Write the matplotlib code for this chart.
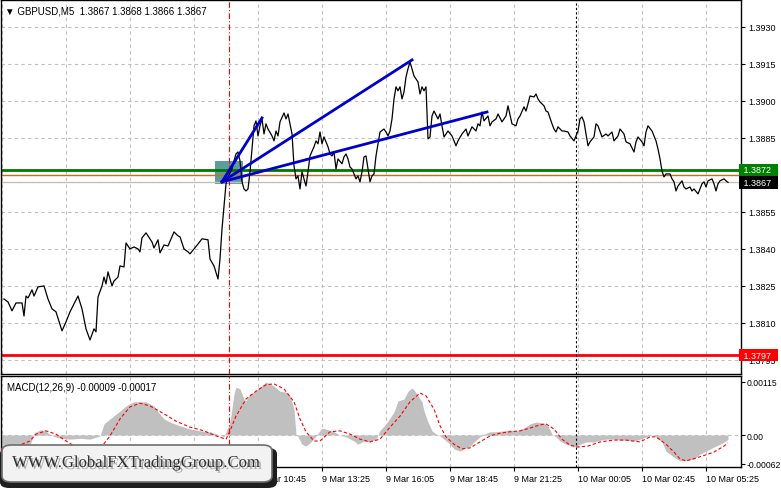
import matplotlib.pyplot as plt
import matplotlib.transforms as mtransforms
import matplotlib.patheffects as pe
from matplotlib.patches import FancyBboxPatch, Rectangle

# GBPUSD M5 closes (bar index from 9 Mar 00:00, 5 min per bar)
price_bar = [2, 4, 6, 8, 11, 12, 13, 14, 16, 17, 19, 22, 24, 26, 28, 31, 33, 35, 37, 39,
             41, 43, 45, 47, 48, 49, 51, 52, 53, 54, 56, 57, 59, 60, 62, 63, 65, 67, 69, 70,
             71, 73, 74, 76, 77, 79, 80, 82, 84, 87, 89, 90, 92, 94, 95, 97, 99, 101, 104, 105,
             107, 109, 110, 111, 112, 113, 114, 116, 117, 118, 119, 120, 121, 122, 123, 124, 125, 126, 127, 128,
             129, 130, 131, 132, 133, 134, 136, 137, 138, 139, 140, 142, 143, 144, 146, 147, 148, 149, 150, 151,
             152, 153, 154, 155, 157, 158, 159, 160, 161, 162, 164, 165, 166, 167, 168, 169, 171, 172, 173, 174,
             175, 176, 178, 179, 180, 181, 182, 183, 184, 185, 186, 187, 188, 189, 190, 192, 193, 194, 195, 196,
             197, 198, 199, 200, 201, 202, 203, 204, 205, 206, 207, 209, 210, 211, 212, 213, 214, 215, 216, 217,
             219, 220, 221, 222, 224, 226, 228, 229, 231, 233, 234, 236, 238, 239, 240, 241, 242, 244, 245, 246,
             248, 249, 251, 253, 254, 256, 258, 259, 260, 262, 263, 264, 265, 267, 268, 269, 270, 272, 273, 274,
             276, 277, 278, 279, 281, 282, 284, 285, 287, 288, 289, 290, 291, 292, 293, 294, 295, 297, 298, 299,
             301, 303, 304, 306, 307, 309, 310, 312, 313, 315, 317, 318, 319, 321, 322, 323, 324, 326, 328, 329,
             330, 331, 332, 333, 335, 336, 337, 338, 339, 341, 342, 343, 345, 346, 347, 349, 350, 351, 352, 353,
             354, 356, 357, 358, 359, 360, 362, 363, 364]
price_close = [1.38197, 1.38185, 1.38149, 1.38181, 1.38181, 1.38128, 1.38209, 1.38201, 1.38234, 1.38209,
               1.38246, 1.38250, 1.38197, 1.38157, 1.38145, 1.38068, 1.38104, 1.38145, 1.38177, 1.38209,
               1.38157, 1.38076, 1.38031, 1.38076, 1.38064, 1.38205, 1.38250, 1.38286, 1.38258, 1.38307,
               1.38250, 1.38270, 1.38286, 1.38331, 1.38327, 1.38424, 1.38400, 1.38408, 1.38400, 1.38388,
               1.38445, 1.38465, 1.38453, 1.38428, 1.38404, 1.38437, 1.38384, 1.38416, 1.38412, 1.38469,
               1.38453, 1.38449, 1.38400, 1.38388, 1.38380, 1.38400, 1.38420, 1.38441, 1.38437, 1.38359,
               1.38331, 1.38278, 1.38359, 1.38481, 1.38574, 1.38664, 1.38692, 1.38724, 1.38757, 1.38785,
               1.38793, 1.38757, 1.38672, 1.38643, 1.38635, 1.38643, 1.38712, 1.38805, 1.38899, 1.38919,
               1.38858, 1.38899, 1.38927, 1.38866, 1.38907, 1.38886, 1.38858, 1.38838, 1.38878, 1.38858,
               1.38915, 1.38951, 1.38927, 1.38947, 1.38866, 1.38737, 1.38684, 1.38696, 1.38643, 1.38712,
               1.38684, 1.38655, 1.38712, 1.38777, 1.38814, 1.38838, 1.38826, 1.38874, 1.38826, 1.38854,
               1.38814, 1.38785, 1.38777, 1.38793, 1.38724, 1.38765, 1.38745, 1.38773, 1.38785, 1.38765,
               1.38732, 1.38724, 1.38684, 1.38696, 1.38672, 1.38712, 1.38773, 1.38777, 1.38724, 1.38672,
               1.38696, 1.38704, 1.38777, 1.38826, 1.38874, 1.38886, 1.38874, 1.38858, 1.38878, 1.38927,
               1.39008, 1.39057, 1.39041, 1.39057, 1.39008, 1.39036, 1.39097, 1.39130, 1.39158, 1.39130,
               1.39101, 1.39077, 1.39028, 1.39057, 1.39041, 1.39057, 1.38846, 1.38854, 1.38939, 1.38959,
               1.38927, 1.38947, 1.38899, 1.38854, 1.38878, 1.38858, 1.38818, 1.38838, 1.38866, 1.38886,
               1.38858, 1.38895, 1.38878, 1.38907, 1.38899, 1.38955, 1.38919, 1.38939, 1.38899, 1.38915,
               1.38927, 1.38947, 1.38915, 1.38939, 1.38980, 1.38907, 1.38899, 1.38927, 1.38939, 1.38976,
               1.38959, 1.38988, 1.39020, 1.39016, 1.39028, 1.39008, 1.38996, 1.38980, 1.38959, 1.38955,
               1.38907, 1.38886, 1.38874, 1.38895, 1.38878, 1.38878, 1.38874, 1.38858, 1.38838, 1.38858,
               1.38878, 1.38927, 1.38935, 1.38915, 1.38866, 1.38818, 1.38834, 1.38854, 1.38907, 1.38899,
               1.38854, 1.38866, 1.38858, 1.38874, 1.38838, 1.38858, 1.38886, 1.38866, 1.38834, 1.38826,
               1.38793, 1.38834, 1.38854, 1.38834, 1.38818, 1.38874, 1.38899, 1.38878, 1.38838, 1.38805,
               1.38765, 1.38716, 1.38692, 1.38704, 1.38704, 1.38684, 1.38672, 1.38635, 1.38655, 1.38676,
               1.38651, 1.38643, 1.38651, 1.38635, 1.38643, 1.38623, 1.38643, 1.38664, 1.38672, 1.38651,
               1.38676, 1.38684, 1.38664, 1.38635, 1.38664, 1.38676, 1.38684, 1.38676, 1.38670]

# MACD(12,26,9) histogram
macd_bar = [0, 15, 17, 20, 23, 25, 30, 35, 40, 45, 50, 52, 55, 60, 63, 67, 70, 73, 77, 79,
            82, 85, 90, 95, 100, 105, 110, 112, 115, 117, 118, 120, 122, 123, 125, 127, 130, 133, 137, 140,
            143, 145, 147, 148, 149, 151, 153, 156, 158, 161, 163, 167, 170, 173, 177, 179, 182, 185, 188, 190,
            193, 197, 199, 202, 204, 206, 207, 209, 211, 212, 214, 216, 218, 220, 222, 225, 227, 230, 232, 235,
            237, 240, 242, 245, 248, 252, 255, 258, 262, 265, 268, 272, 274, 276, 278, 280, 283, 287, 290, 293,
            297, 300, 303, 307, 310, 313, 317, 320, 323, 326, 328, 331, 333, 337, 340, 343, 347, 350, 353, 357,
            360, 363, 364]
macd_val = [-0.00022, -0.00022, 0.00004, 0.00011, 0.00009, 0.0, -0.00007, -0.00009, -0.00007, -0.00009,
            -0.00002, 0.00024, 0.00035, 0.00052, 0.00063, 0.00072, 0.00072, 0.00072, 0.00063, 0.00050,
            0.00035, 0.00028, 0.00020, 0.00013, 0.00009, 0.00007, 0.0, -0.00004, 0.00028, 0.00089,
            0.00104, 0.00100, 0.00078, 0.00074, 0.00089, 0.00093, 0.00104, 0.00115, 0.00106, 0.00095,
            0.00093, 0.00085, 0.00056, 0.00002, -0.00004, -0.00020, -0.00024, -0.00013, -0.00002, 0.00015,
            0.00013, 0.00007, 0.0, -0.00004, -0.00013, -0.00020, -0.00013, -0.00015, -0.00009, 0.00010,
            0.00024, 0.00050, 0.00074, 0.00078, 0.00095, 0.00102, 0.00098, 0.00085, 0.00072, 0.00052,
            0.00028, 0.00009, 0.00002, -0.00002, -0.00009, -0.00020, -0.00030, -0.00035, -0.00030, -0.00024,
            -0.00015, -0.00004, 0.00002, 0.00007, 0.00007, 0.00009, 0.00011, 0.00009, 0.00015, 0.00024,
            0.00028, 0.00026, 0.00020, 0.00002, -0.00004, -0.00013, -0.00020, -0.00026, -0.00020, -0.00015,
            -0.00015, -0.00011, -0.00009, -0.00009, -0.00011, -0.00011, -0.00013, -0.00009, -0.00004, 0.0,
            -0.00004, -0.00015, -0.00035, -0.00048, -0.00056, -0.00056, -0.00052, -0.00041, -0.00035, -0.00026,
            -0.00020, -0.00013, -0.00009]

# MACD signal line
sig_bar = [0, 8, 15, 18, 23, 28, 33, 38, 45, 50, 55, 60, 65, 70, 75, 82, 88, 95, 102, 108,
           113, 115, 118, 123, 128, 133, 137, 142, 147, 150, 153, 157, 160, 165, 170, 175, 180, 185, 190, 195,
           200, 205, 210, 213, 217, 220, 223, 227, 231, 235, 240, 245, 250, 255, 260, 265, 270, 273, 277, 281,
           285, 289, 294, 300, 307, 313, 320, 325, 328, 333, 337, 340, 343, 348, 353, 357, 362, 364]
sig_val = [-0.00030, -0.00025, -0.00013, 0.00002, 0.00009, 0.00002, -0.00013, -0.00026, -0.00037, -0.00030,
           -0.00002, 0.00035, 0.00061, 0.00069, 0.00063, 0.00046, 0.00030, 0.00017, 0.00009, -0.00002,
           -0.00009, 0.00009, 0.00041, 0.00078, 0.00095, 0.00109, 0.00111, 0.00100, 0.00072, 0.00035,
           0.00007, -0.00013, -0.00013, 0.00007, 0.00009, 0.00002, -0.00009, -0.00015, -0.00009, 0.00017,
           0.00041, 0.00072, 0.00091, 0.00085, 0.00056, 0.00020, -0.00004, -0.00020, -0.00030, -0.00028,
           -0.00015, -0.00002, 0.00004, 0.00007, 0.00009, 0.00015, 0.00022, 0.00024, 0.00013, -0.00009,
           -0.00022, -0.00026, -0.00024, -0.00015, -0.00011, -0.00011, -0.00015, -0.00004, -0.00004, -0.00020,
           -0.00037, -0.00052, -0.00056, -0.00050, -0.00043, -0.00037, -0.00024, -0.00017]

price_ticks = [1.3795, 1.3810, 1.3825, 1.3840, 1.3855, 1.3870, 1.3885, 1.3900, 1.3915, 1.3930]
price_tick_labels = ['1.3795', '1.3810', '1.3825', '1.3840', '1.3855', '', '1.3885', '1.3900', '1.3915', '1.3930']
macd_ticks = [-0.00062, 0.0, 0.00115]
macd_tick_labels = ['-0.00062', '0.00', '0.00115']
time_bars = [1, 33, 65, 97, 129, 161, 193, 225, 257, 289, 321, 353]
time_labels = ['9 Mar 2021', '9 Mar 02:45', '9 Mar 05:25', '9 Mar 08:05', '9 Mar 10:45', '9 Mar 13:25',
               '9 Mar 16:05', '9 Mar 18:45', '9 Mar 21:25', '10 Mar 00:05', '10 Mar 02:45', '10 Mar 05:25']

# levels and drawn objects
green_level = 1.3872
orange_level = 1.3870
bid_level = 1.3867
red_level = 1.3797
event_bar = 114.5
day_bar = 288
fan_start = (111, 1.38672)
fan_ends = [(131, 1.38931), (206, 1.39166), (243.5, 1.38955)]
box_bars = (107.5, 121.5)
box_prices = (1.38664, 1.38757)

plt.rcParams['font.family'] = ['Liberation Sans', 'DejaVu Sans']
fs = 6.5
grid_kw = dict(color='#c0c0c0', linestyle=(0, (3, 3)), linewidth=0.8)

fig = plt.figure(figsize=(7.81, 4.89), dpi=100)
ax = fig.add_axes([1 / 781, 1 - 375 / 489, 740 / 781, 374 / 489])
am = fig.add_axes([1 / 781, 1 - 468 / 489, 740 / 781, 91 / 489])

for a in (ax, am):
    a.set_xlim(0.5, 370.5)
    a.set_xticks(time_bars)
    a.grid(axis='x', **grid_kw)
    a.yaxis.tick_right()
    a.tick_params(axis='y', direction='out', length=3, labelsize=fs, pad=2, width=0.8)
    for s in a.spines.values():
        s.set_linewidth(1)
    a.axvline(event_bar, color='red', linestyle=(0, (5, 2, 1, 2)), linewidth=0.8, zorder=3)
    a.axvline(day_bar, color='black', linestyle=(0, (2, 2)), linewidth=0.8, zorder=3)

# main price panel
ax.set_ylim(1.37893, 1.39409)
ax.set_yticks(price_ticks)
ax.set_yticklabels(price_tick_labels)
ax.grid(axis='y', **grid_kw)
ax.tick_params(axis='x', length=0, labelbottom=False)

ax.add_patch(Rectangle((box_bars[0], box_prices[0]), box_bars[1] - box_bars[0],
                       box_prices[1] - box_prices[0], facecolor='#5f9b9b', edgecolor='none', zorder=2))
ax.axhline(bid_level, color='#c0c0c0', linewidth=1, zorder=2)
ax.axhline(orange_level, color='#d2691e', linewidth=1, zorder=2)
ax.axhline(green_level, color='#007800', linewidth=2, zorder=2)
ax.axhline(red_level, color='#ff0000', linewidth=2, zorder=2)
ax.plot(price_bar, price_close, color='black', linewidth=0.9, zorder=4)
for ex, ey in fan_ends:
    ax.plot([fan_start[0], ex], [fan_start[1], ey], color='#0000cd', linewidth=2, zorder=5)

trans = mtransforms.blended_transform_factory(ax.transAxes, ax.transData)
for lvl, txt, col in [(green_level, '1.3872', '#008000'), (bid_level, '1.3867', '#000000'),
                      (red_level, '1.3797', '#ff0000')]:
    ax.text(1.0, lvl, ' ' + txt + '  ', transform=trans, ha='left', va='center', fontsize=fs,
            color='white', clip_on=False, zorder=6,
            bbox=dict(boxstyle='square,pad=0.2', facecolor=col, edgecolor='none'))

ax.text(0.006, 0.985, '\u25BC GBPUSD,M5  1.3867 1.3868 1.3866 1.3867', transform=ax.transAxes,
        ha='left', va='top', fontsize=7)

# MACD panel
am.set_ylim(-0.000694, 0.00128)
am.set_yticks(macd_ticks)
am.set_yticklabels(macd_tick_labels)
am.tick_params(axis='y', labelsize=6.2, pad=1)
am.axhline(0, **grid_kw)
am.fill_between(macd_bar, 0, macd_val, color='#c0c0c0', linewidth=0, zorder=2)
am.plot(sig_bar, sig_val, color='red', linestyle=(0, (3, 2)), linewidth=0.8, zorder=4)
am.set_xticklabels(time_labels)
am.tick_params(axis='x', direction='out', length=3, labelsize=fs, pad=2, width=0.8)
for lab in am.get_xticklabels():
    lab.set_horizontalalignment('left')
am.text(0.008, 0.93, 'MACD(12,26,9) -0.00009 -0.00017', transform=am.transAxes,
        ha='left', va='top', fontsize=7)

# watermark
fig.patches.append(FancyBboxPatch((0 / 781, 0.0), 277 / 781, 40 / 489,
                                  boxstyle='round,pad=0,rounding_size=0.012',
                                  transform=fig.transFigure, facecolor='#1e1e1e',
                                  edgecolor='none', zorder=10))
fig.patches.append(FancyBboxPatch((2 / 781, 1 - 483 / 489), 270 / 781, 37 / 489,
                                  boxstyle='round,pad=0,rounding_size=0.012',
                                  transform=fig.transFigure, facecolor='#f2f2f2',
                                  edgecolor='#6e6e6e', linewidth=1.2, zorder=11))
fig.text(136 / 781, 1 - 464 / 489, 'WWW.GlobalFXTradingGroup.Com', family='Liberation Serif',
         fontsize=12, color='#2e2e2e', ha='center', va='center', zorder=12,
         path_effects=[pe.withSimplePatchShadow(offset=(1.5, -1.5), shadow_rgbFace='#9a9a9a', alpha=0.8)])

fig.savefig('out.png', dpi=100)
